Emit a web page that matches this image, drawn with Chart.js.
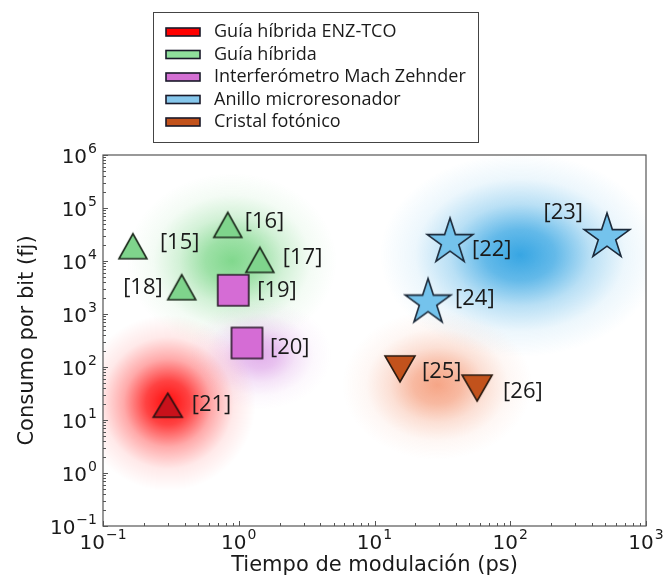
<!DOCTYPE html>
<html>
<head>
<meta charset="utf-8">
<script src="https://cdn.jsdelivr.net/npm/chart.js@4.4.1/dist/chart.umd.min.js"></script>
<style>
  html, body { margin: 0; padding: 0; background: #fff; }
</style>
</head>
<body>
<canvas id="myChart" width="666" height="584"></canvas>
<script>
// categorias (leyenda)
const categorias = ['Guía híbrida ENZ-TCO', 'Guía híbrida', 'Interferómetro Mach Zehnder', 'Anillo microresonador', 'Cristal fotónico'];

// puntos por categoria: tiempo de modulacion (ps) y consumo por bit (fJ)
const enzRefs = ['[21]'];
const enzX = [0.30];
const enzY = [19];

const hibridaRefs = ['[15]', '[16]', '[17]', '[18]'];
const hibridaX = [0.166, 0.83, 1.43, 0.38];
const hibridaY = [19000, 48000, 10500, 3200];

const machRefs = ['[19]', '[20]'];
const machX = [0.91, 1.15];
const machY = [2800, 284];

const anilloRefs = ['[22]', '[23]', '[24]'];
const anilloX = [36, 516, 24.8];
const anilloY = [25000, 31000, 1800];

const cristalRefs = ['[25]', '[26]'];
const cristalX = [15.4, 57];
const cristalY = [92, 40];

// centro de cada nube de fondo (mismo orden que categorias)
const nubeX = [0.30, 0.89, 1.43, 118, 29];
const nubeY = [21, 10000, 170, 13000, 46];

// decadas de los ejes
const decadasX = [-1, 0, 1, 2, 3];
const decadasY = [-1, 0, 1, 2, 3, 4, 5, 6];

// ---- estilos ----
const coloresLeyenda = ['#ff0000', '#8fdf9c', '#d36fd3', '#86c7ec', '#c2521c'];
const estiloNube = [
    { rgb: [255, 0, 0], a: 0.95, rx: 88, ry: 88 },
    { rgb: [45, 190, 65], a: 0.6, rx: 105, ry: 88 },
    { rgb: [190, 80, 210], a: 0.45, rx: 72, ry: 55 },
    { rgb: [20, 150, 222], a: 0.85, rx: 140, ry: 102 },
    { rgb: [240, 110, 60], a: 0.62, rx: 95, ry: 75 },
];
const ordenNubes = [1, 3, 2, 0, 4];

// desplazamiento de cada etiqueta [dx, dy, alineacion]
const posEtiqueta = {
    '[15]': [27, -3, 'left'], '[16]': [17, -3, 'left'], '[17]': [23, -2, 'left'],
    '[18]': [-19, 1, 'right'], '[19]': [24, 0, 'left'], '[20]': [23, 5, 'left'],
    '[21]': [24, 0, 'left'], '[22]': [22, 10, 'left'], '[23]': [-24, -22, 'right'],
    '[24]': [27, -2, 'left'], '[25]': [22, 3, 'left'], '[26]': [26, 4, 'left'],
};

function marcador(forma, w, h, relleno, borde, lw) {
    const c = document.createElement('canvas');
    c.width = Math.ceil(w + lw * 2 + 4);
    c.height = Math.ceil(h + lw * 2 + 4);
    const g = c.getContext('2d');
    const cx = c.width / 2, cy = c.height / 2;
    g.beginPath();
    if (forma === 'tri') {
        g.moveTo(cx, cy - h / 2);
        g.lineTo(cx + w / 2, cy + h / 2);
        g.lineTo(cx - w / 2, cy + h / 2);
    } else if (forma === 'triAbajo') {
        g.moveTo(cx, cy + h / 2);
        g.lineTo(cx + w / 2, cy - h / 2);
        g.lineTo(cx - w / 2, cy - h / 2);
    } else if (forma === 'cuadrado') {
        g.rect(cx - w / 2, cy - h / 2, w, h);
    } else {
        const R = w / 2, r = R * 0.382;
        for (let k = 0; k < 10; k++) {
            const ang = -Math.PI / 2 + k * Math.PI / 5;
            const rr = k % 2 === 0 ? R : r;
            const px = cx + Math.cos(ang) * rr, py = cy + 2 + Math.sin(ang) * rr;
            if (k === 0) g.moveTo(px, py); else g.lineTo(px, py);
        }
    }
    g.closePath();
    g.fillStyle = relleno;
    g.fill();
    g.lineJoin = 'miter';
    g.lineWidth = lw;
    g.strokeStyle = borde;
    g.stroke();
    return c;
}

function puntos(xs, ys) {
    return xs.map((x, i) => ({ x: x, y: ys[i] }));
}

function exponente(v) {
    const e = Math.log10(v);
    if (Math.abs(e - Math.round(e)) > 1e-6) return null;
    return Math.round(e);
}

function ticksLog(decadas) {
    const t = [];
    for (let i = 0; i < decadas.length - 1; i++) {
        for (let m = 1; m <= 9; m++) {
            t.push({ value: parseFloat((m * Math.pow(10, decadas[i])).toPrecision(4)) });
        }
    }
    t.push({ value: Math.pow(10, decadas[decadas.length - 1]) });
    return t;
}

const datasets = [
    { label: categorias[0], data: puntos(enzX, enzY), refs: enzRefs, pointStyle: marcador('tri', 29, 24, '#c8111b', '#2a1010', 1.6) },
    { label: categorias[1], data: puntos(hibridaX, hibridaY), refs: hibridaRefs, pointStyle: marcador('tri', 28, 25, '#7fd48c', '#1c2a1c', 1.6) },
    { label: categorias[2], data: puntos(machX, machY), refs: machRefs, pointStyle: marcador('cuadrado', 31, 31, '#d56cd5', '#2a1a2a', 1.6) },
    { label: categorias[3], data: puntos(anilloX, anilloY), refs: anilloRefs, pointStyle: marcador('estrella', 48, 48, '#74c3ec', '#1c2a3a', 1.6) },
    { label: categorias[4], data: puntos(cristalX, cristalY), refs: cristalRefs, pointStyle: marcador('triAbajo', 30, 26, '#c2521c', '#2a1a10', 1.6) },
];
datasets.forEach(d => { d.pointRadius = 14; d.showLine = false; });

const nubesPlugin = {
    id: 'nubes',
    beforeDatasetsDraw(chart) {
        const { ctx, chartArea, scales } = chart;
        ctx.save();
        ctx.beginPath();
        ctx.rect(chartArea.left, chartArea.top, chartArea.width, chartArea.height);
        ctx.clip();
        ordenNubes.forEach(i => {
            const est = estiloNube[i];
            const px = scales.x.getPixelForValue(nubeX[i]);
            const py = scales.y.getPixelForValue(nubeY[i]);
            const [r, g, b] = est.rgb;
            const c = a => `rgba(${r},${g},${b},${a})`;
            ctx.save();
            ctx.translate(px, py);
            ctx.scale(est.rx, est.ry);
            const grad = ctx.createRadialGradient(0, 0, 0, 0, 0, 1);
            grad.addColorStop(0, c(est.a));
            grad.addColorStop(0.25, c(est.a * 0.78));
            grad.addColorStop(0.5, c(est.a * 0.35));
            grad.addColorStop(0.75, c(est.a * 0.09));
            grad.addColorStop(1, c(0));
            ctx.fillStyle = grad;
            ctx.beginPath();
            ctx.arc(0, 0, 1, 0, Math.PI * 2);
            ctx.fill();
            ctx.restore();
        });
        ctx.restore();
    }
};

const etiquetasPlugin = {
    id: 'etiquetas',
    afterDatasetsDraw(chart) {
        const ctx = chart.ctx;
        ctx.save();
        ctx.font = '22px "Open Sans"';
        ctx.fillStyle = '#1a1a1a';
        ctx.textBaseline = 'middle';
        chart.data.datasets.forEach((ds, i) => {
            chart.getDatasetMeta(i).data.forEach((p, j) => {
                const ref = ds.refs[j];
                const [dx, dy, al] = posEtiqueta[ref];
                ctx.textAlign = al;
                ctx.fillText(ref, p.x + dx, p.y + dy);
            });
        });
        ctx.restore();
    }
};

// etiquetas 10^n con superindice, como matplotlib
const fuenteBase = '20px "DejaVu Sans"';
const fuenteSup = '14px "DejaVu Sans"';
function potencia(ctx, e, x, y, modo) {
    const sup = String(e).replace('-', '\u2212');
    ctx.font = fuenteBase;
    const wb = ctx.measureText('10').width;
    ctx.font = fuenteSup;
    const ws = ctx.measureText(sup).width;
    const total = wb + ws + 1;
    let x0, base;
    if (modo === 'y') { x0 = x - total; base = y + 8; }
    else { x0 = x - total / 2; base = y + 15; }
    ctx.font = fuenteBase;
    ctx.fillText('10', x0, base);
    ctx.font = fuenteSup;
    ctx.fillText(sup, x0 + wb + 1, base - 10);
}

const marcoPlugin = {
    id: 'marco',
    afterDraw(chart) {
        const { ctx, chartArea, scales } = chart;
        const { left, right, top, bottom } = chartArea;
        ctx.save();
        ctx.strokeStyle = '#555';
        ctx.lineWidth = 1;
        // ticks hacia dentro
        ctx.beginPath();
        scales.x.ticks.forEach(t => {
            const x = Math.round(scales.x.getPixelForValue(t.value)) + 0.5;
            const len = exponente(t.value) !== null ? 5 : 3;
            ctx.moveTo(x, bottom);
            ctx.lineTo(x, bottom - len);
        });
        scales.y.ticks.forEach(t => {
            const y = Math.round(scales.y.getPixelForValue(t.value)) + 0.5;
            const len = exponente(t.value) !== null ? 5 : 3;
            ctx.moveTo(left, y);
            ctx.lineTo(left + len, y);
        });
        ctx.stroke();
        ctx.lineWidth = 1.2;
        ctx.strokeRect(left, top, right - left, bottom - top);

        // etiquetas de las decadas
        ctx.fillStyle = '#1a1a1a';
        ctx.textAlign = 'left';
        ctx.textBaseline = 'alphabetic';
        scales.x.ticks.forEach(t => {
            const e = exponente(t.value);
            if (e !== null) potencia(ctx, e, scales.x.getPixelForValue(t.value), bottom + 8, 'x');
        });
        scales.y.ticks.forEach(t => {
            const e = exponente(t.value);
            if (e !== null) potencia(ctx, e, left - 6, scales.y.getPixelForValue(t.value), 'y');
        });
        ctx.restore();
    }
};

const leyendaPlugin = {
    id: 'leyenda',
    afterDraw(chart) {
        const ctx = chart.ctx;
        ctx.save();
        ctx.strokeStyle = '#444';
        ctx.lineWidth = 1;
        ctx.strokeRect(153.5, 12.5, 325, 130);
        ctx.font = '18px "Open Sans"';
        ctx.textBaseline = 'middle';
        ctx.textAlign = 'left';
        chart.data.datasets.forEach((ds, i) => {
            const y = 32 + i * 22.5;
            ctx.fillStyle = coloresLeyenda[i];
            ctx.fillRect(166, y - 4, 34, 8);
            ctx.strokeStyle = '#1a1a2a';
            ctx.lineWidth = 1.6;
            ctx.strokeRect(166, y - 4, 34, 8);
            ctx.fillStyle = '#1a1a1a';
            ctx.fillText(ds.label, 214, y);
        });
        ctx.restore();
    }
};

const fuenteTitulo = { family: '"DejaVu Sans"', size: 21 };

const config = {
    type: 'scatter',
    data: { datasets: datasets },
    options: {
        responsive: false,
        animation: false,
        layout: { padding: { top: 155, right: 20, bottom: 0, left: 0 } },
        plugins: {
            legend: { display: false },
            tooltip: { enabled: false },
        },
        scales: {
            x: {
                type: 'logarithmic',
                min: Math.pow(10, decadasX[0]),
                max: Math.pow(10, decadasX[decadasX.length - 1]),
                afterBuildTicks: s => { s.ticks = ticksLog(decadasX); },
                afterFit: s => { s.height = 58; },
                grid: { display: false, drawTicks: false },
                border: { display: false },
                ticks: { display: false, autoSkip: false },
                title: {
                    display: true, text: 'Tiempo de modulación (ps)', color: '#1a1a1a',
                    font: fuenteTitulo, padding: { top: 0, bottom: 6 },
                },
            },
            y: {
                type: 'logarithmic',
                min: Math.pow(10, decadasY[0]),
                max: Math.pow(10, decadasY[decadasY.length - 1]),
                afterBuildTicks: s => { s.ticks = ticksLog(decadasY); },
                afterFit: s => { s.width = 103; },
                grid: { display: false, drawTicks: false },
                border: { display: false },
                ticks: { display: false, autoSkip: false },
                title: {
                    display: true, text: 'Consumo por bit (fj)', color: '#1a1a1a',
                    font: fuenteTitulo, padding: { top: 15, bottom: 0 },
                },
            },
        },
    },
    plugins: [nubesPlugin, etiquetasPlugin, marcoPlugin, leyendaPlugin],
};

const ctx = document.getElementById('myChart').getContext('2d');
new Chart(ctx, config);
</script>
</body>
</html>
